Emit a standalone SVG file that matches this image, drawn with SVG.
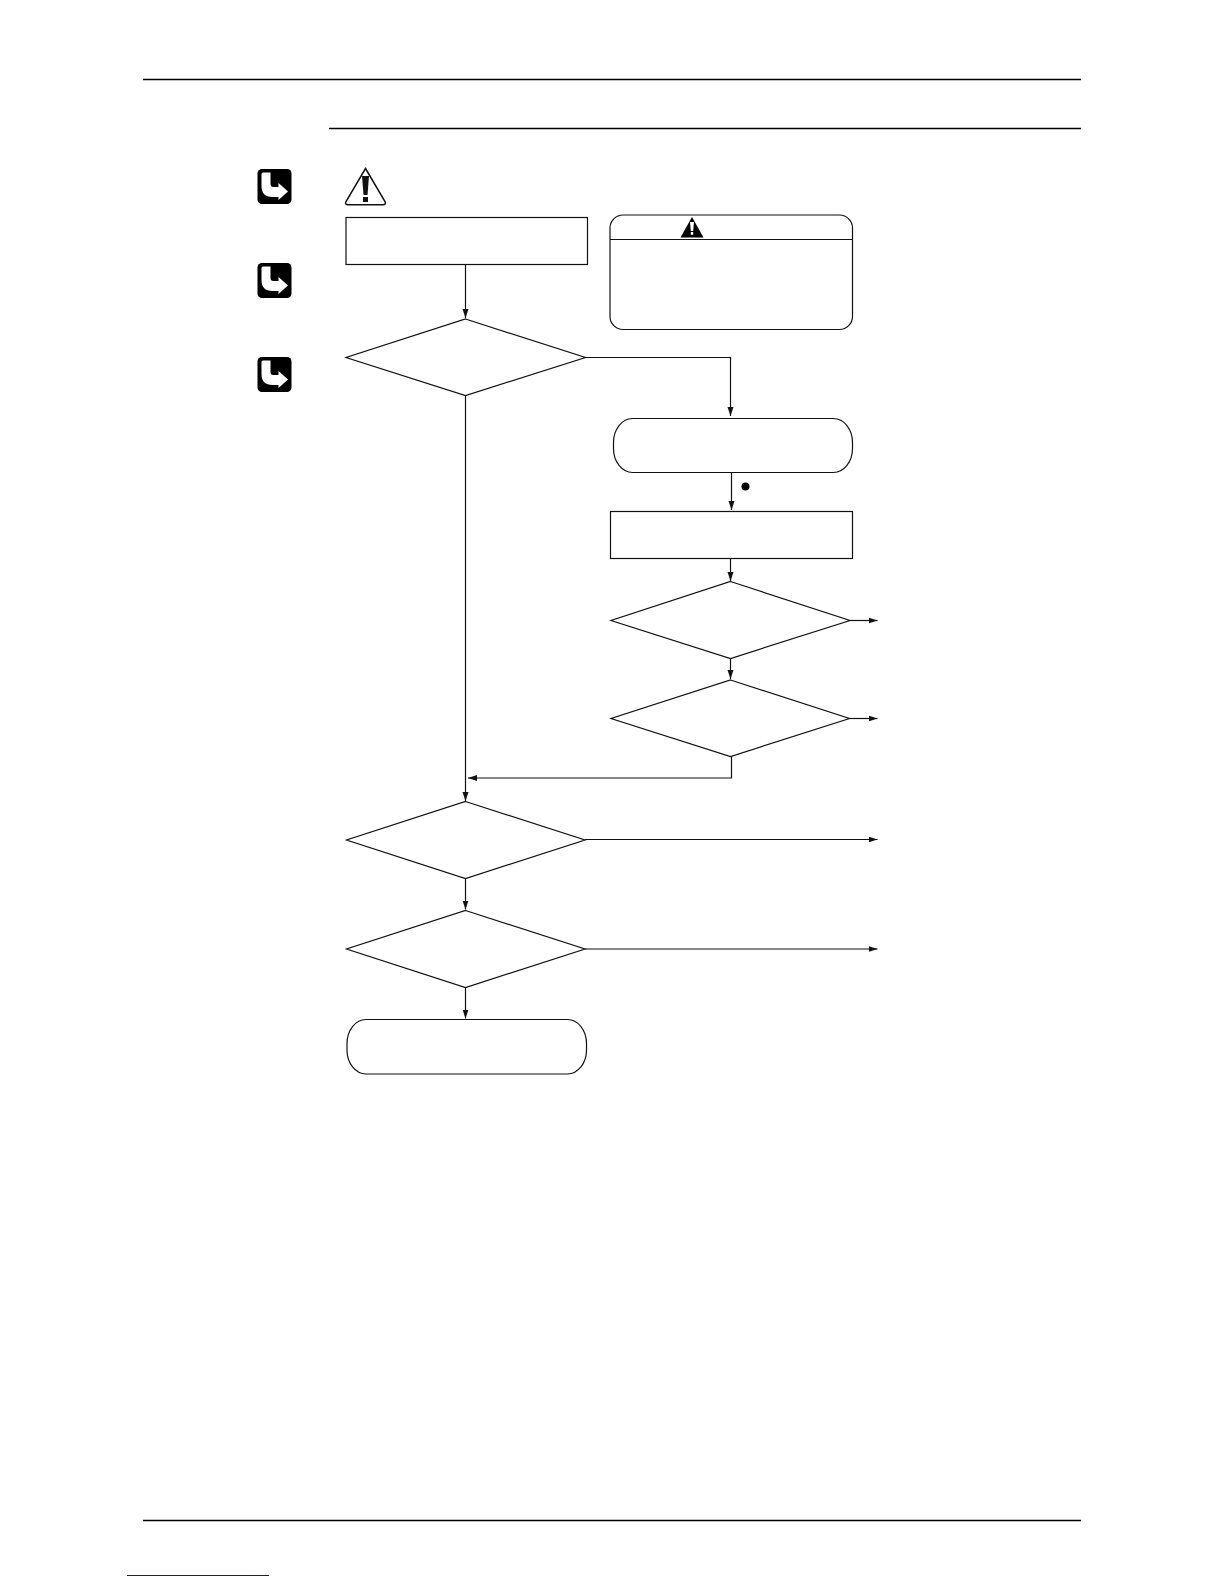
<svg xmlns="http://www.w3.org/2000/svg" width="1224" height="1584" viewBox="0 0 1224 1584">
<style>
.s{fill:#fff;stroke:#111;stroke-width:1.2}
.c{fill:none;stroke:#111;stroke-width:1.2}
.r{stroke:#000;stroke-width:1.3}
</style>
<defs>
<marker id="a" markerUnits="userSpaceOnUse" markerWidth="9" markerHeight="7" refX="9" refY="3.500" orient="auto"><path d="M0 0.500L9 3.500L0 6.500Z" fill="#111"/></marker>
<g id="icon"><rect x="0" y="0" width="34" height="35" rx="4.500" fill="#000"/><path d="M4 5Q4 3.500 5.500 3.500H13V15Q13 18 16 18H21V14L30.500 22.500L21 31V28H15Q4 28 4 17Z" fill="#fff"/></g>
</defs>
<rect width="1224" height="1584" fill="#fff"/>
<g id="rules">
<line class="r" x1="143" y1="79.500" x2="1081" y2="79.500"/>
<line class="r" x1="329" y1="128.500" x2="1081" y2="128.500"/>
<line class="r" x1="143" y1="1520.500" x2="1081" y2="1520.500"/>
<line x1="127" y1="1575.500" x2="269" y2="1575.500" stroke="#0a1a8c" stroke-width="1.200"/>
</g>
<g id="icon-1"><use href="#icon" x="257.500" y="169"/></g>
<g id="icon-2"><use href="#icon" x="257.500" y="263"/></g>
<g id="icon-3"><use href="#icon" x="257.500" y="357"/></g>
<g id="warning"><path d="M365.500 168.500L385 201.500Q386.500 204.800 383 204.800H348Q344.500 204.800 346 201.500Z" fill="#fff" stroke="#111" stroke-width="1.500"/><path d="M362 176H369L367.500 195H363.500Z" fill="#111"/><rect x="363" y="197" width="5" height="5" fill="#111"/></g>
<g id="n1"><rect class="s" x="346" y="217.500" width="241.500" height="47"/></g>
<g id="caution"><rect class="s" x="610" y="215" width="242.500" height="114.500" rx="13"/><line class="c" x1="610" y1="239.500" x2="852.500" y2="239.500"/><path d="M692 217L703.500 237.500H680.500Z" fill="#000"/><path d="M690 222H694L693.200 231H690.800Z" fill="#fff"/><rect x="690.800" y="232" width="2.400" height="2.800" fill="#fff"/></g>
<g id="d1"><polygon class="s" points="465.500,319 585.500,357.500 465.500,395.500 346,357.500"/></g>
<g id="t2"><rect class="s" x="613.500" y="418.500" width="239" height="54" rx="19" ry="24"/></g>
<g id="dot"><circle cx="745.500" cy="486.500" r="4" fill="#000"/></g>
<g id="n3"><rect class="s" x="610.500" y="511.500" width="242" height="47"/></g>
<g id="d2"><polygon class="s" points="730.500,581.500 850,620.500 730.500,658.500 611,620.500"/></g>
<g id="d3"><polygon class="s" points="730.500,680 849.500,718.500 730.500,756.500 611,718.500"/></g>
<g id="d4"><polygon class="s" points="465.500,801.500 585,840 465.500,878.500 346.500,840"/></g>
<g id="d5"><polygon class="s" points="465.500,910.500 585,949 465.500,987.500 346.500,949"/></g>
<g id="t3"><rect class="s" x="347" y="1019.500" width="239.500" height="54.500" rx="19" ry="24"/></g>
<g id="connectors">
<path class="c" marker-end="url(#a)" d="M465.500 264.500V318"/>
<path class="c" marker-end="url(#a)" d="M585.500 357.500H730.500V416"/>
<path class="c" marker-end="url(#a)" d="M731.500 472.500V510"/>
<path class="c" marker-end="url(#a)" d="M730.500 558.500V581"/>
<path class="c" marker-end="url(#a)" d="M850 620.500H877.500"/>
<path class="c" marker-end="url(#a)" d="M730.500 658.500V679"/>
<path class="c" marker-end="url(#a)" d="M849.500 718.500H877.500"/>
<path class="c" marker-end="url(#a)" d="M731.500 756.500V778H468"/>
<path class="c" marker-end="url(#a)" d="M465.500 395.500V801"/>
<path class="c" marker-end="url(#a)" d="M585 839.500H877.500"/>
<path class="c" marker-end="url(#a)" d="M465.500 878.500V909.500"/>
<path class="c" marker-end="url(#a)" d="M585 949H877.500"/>
<path class="c" marker-end="url(#a)" d="M465.500 987.500V1018.500"/>
</g>
</svg>
